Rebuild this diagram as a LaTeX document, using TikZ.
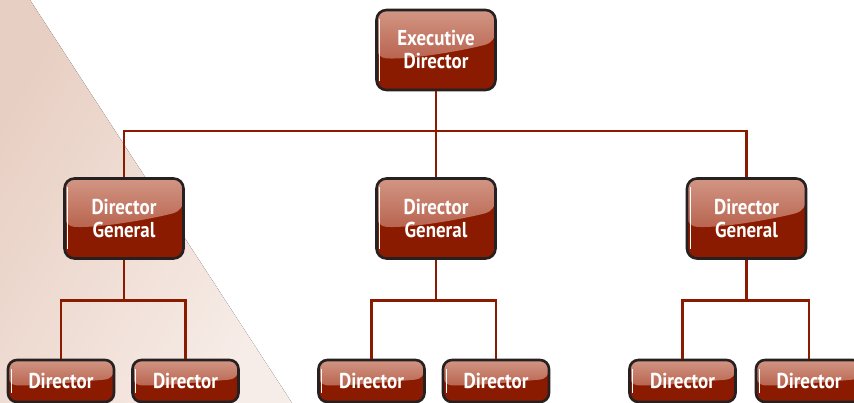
\documentclass[tikz,border=0pt]{standalone}
\usepackage{fontspec}
\newfontfamily\orgfont{PT Sans}[FakeStretch=0.88]
\usepackage{tikz}
\definecolor{boxred}{RGB}{139,27,0}
\definecolor{glosshi}{RGB}{210,150,132}
\definecolor{glosslo}{RGB}{168,68,46}
\definecolor{boxrim}{RGB}{38,32,32}
\definecolor{bandpink}{RGB}{232,207,195}
\definecolor{bandlight}{RGB}{247,237,232}
\usetikzlibrary{positioning}
\usetikzlibrary{calc}
\tikzset{orgbox/.style={
    draw=boxrim,
    line width=2.6pt,
    fill=boxred,
    rounded corners=10pt,
    text=white,
    align=center,
    inner sep=0pt,
    path picture={
      \fill[top color=glosshi, bottom color=glosslo]
        (path picture bounding box.north west) --
        (path picture bounding box.north east) --
        ($(path picture bounding box.north east)!#1!(path picture bounding box.south east)$)
        .. controls ($(path picture bounding box.north east)!0.5!(path picture bounding box.south)$)
        and ($(path picture bounding box.north west)!0.62!(path picture bounding box.south)$) ..
        ($(path picture bounding box.north west)!0.6!(path picture bounding box.south west)$) -- cycle;
      \draw[white, line width=1.3pt]
        ($(path picture bounding box.north west)+(3.2pt,-9pt)$) --
        ($(path picture bounding box.south west)+(3.2pt,9pt)$);
    }
  },
  orgbox/.default=0.4,
  topbox/.style={
    orgbox,
    minimum width=119pt,
    minimum height=80pt,
    font=\orgfont\bfseries\fontsize{21.5}{23}\selectfont
  },
  dirbox/.style={
    orgbox=0.45,
    minimum width=106pt,
    minimum height=42pt,
    rounded corners=9pt,
    font=\orgfont\bfseries\fontsize{21.5}{22}\selectfont
  },
  orgline/.style={
    draw=boxred,
    line width=2.4pt
  }
}

\begin{document}
\begin{tikzpicture}[x=1pt,y=-1pt]
      \useasboundingbox (0,0) rectangle (854,403);
      % pink band on the left
      \fill[left color=bandpink, right color=bandlight, shading angle=60]
        (0,0) -- (30,0) -- (292,403) -- (0,403) -- cycle;
      \coordinate (bus) at (436,131);
      \node[topbox] (exec) at (436,50) {Executive\\Director};
      \node[topbox] (gen1) at (124,218.5) {Director\\General};
      \node[topbox] (gen2) at (436,218.5) {Director\\General};
      \node[topbox] (gen3) at (746.5,218.5) {Director\\General};
      \node[dirbox] (dir11) at (61,381) {Director};
      \node[dirbox] (dir12) at (185.5,381) {Director};
      \node[dirbox] (dir21) at (371.5,381) {Director};
      \node[dirbox] (dir22) at (496,381) {Director};
      \node[dirbox] (dir31) at (682.5,381) {Director};
      \node[dirbox] (dir32) at (809,381) {Director};
      \draw[orgline] (exec) -- (gen2);
      \draw[orgline] (gen1) |- (bus) -| (gen3);
      \draw[orgline] (gen1) -- ++(0,82) -| (dir11);
      \draw[orgline] (gen1) -- ++(0,82) -| (dir12);
      \draw[orgline] (gen2) -- ++(0,82) -| (dir21);
      \draw[orgline] (gen2) -- ++(0,82) -| (dir22);
      \draw[orgline] (gen3) -- ++(0,82) -| (dir31);
      \draw[orgline] (gen3) -- ++(0,82) -| (dir32);
\end{tikzpicture}
\end{document}
